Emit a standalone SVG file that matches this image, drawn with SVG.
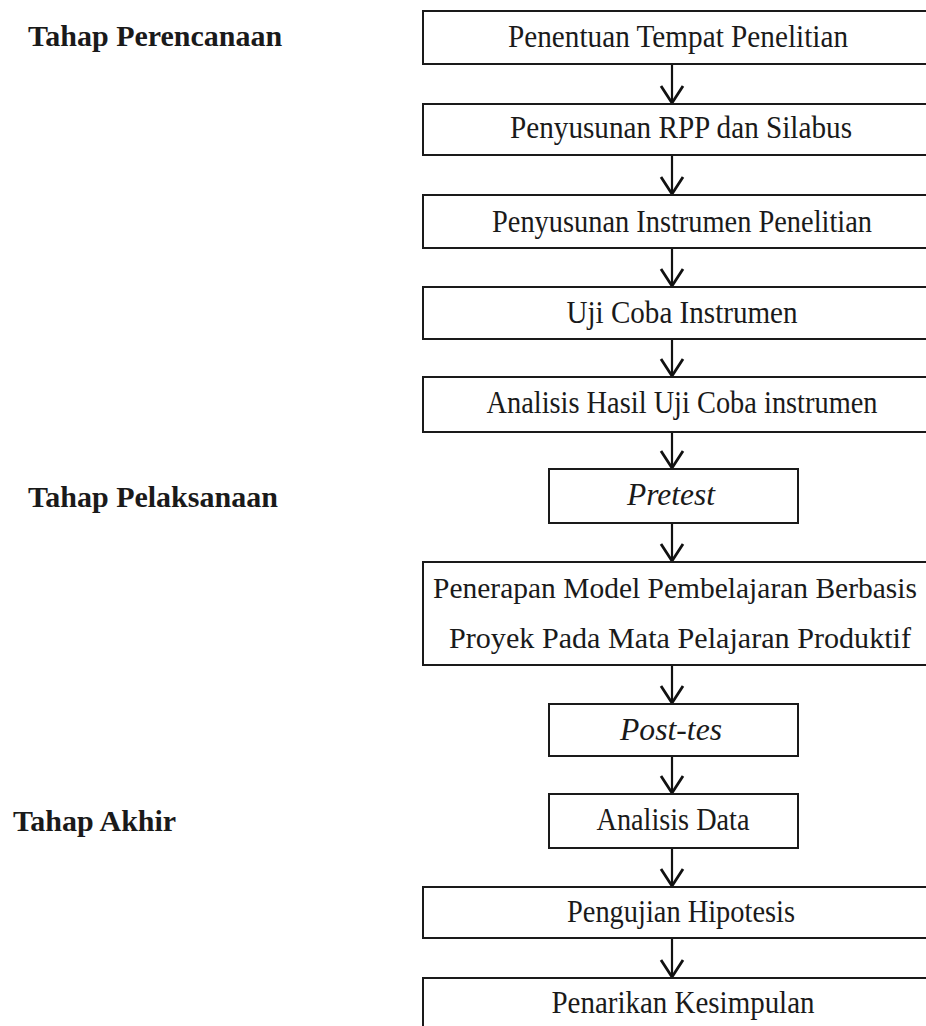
<svg xmlns="http://www.w3.org/2000/svg" width="926" height="1026" viewBox="0 0 926 1026">
<style>
.box{fill:#fff;stroke:#1a1a1a;stroke-width:2}
.t{font-family:"Liberation Serif","Times New Roman",serif;font-size:32px;fill:#1a1a1a;text-anchor:middle}
.s{font-size:29px}
.i{font-style:italic}
.lbl{font-family:"Liberation Serif","Times New Roman",serif;font-size:30px;font-weight:bold;fill:#1a1a1a}
.c{stroke:#111;stroke-width:2.2;fill:none}
</style>
<defs>
<marker id="ah" markerUnits="userSpaceOnUse" markerWidth="40" markerHeight="40" refX="0" refY="0" orient="auto" overflow="visible">
<path d="M-17,-11 L0,0 L-17,11" fill="none" stroke="#111" stroke-width="2.8" stroke-linejoin="miter"/>
</marker>
</defs>
<rect width="926" height="1026" fill="#fff"/>
<g id="labels">
<text class="lbl" x="28" y="46">Tahap Perencanaan</text>
<text class="lbl" x="28" y="507">Tahap Pelaksanaan</text>
<text class="lbl" x="13" y="831">Tahap Akhir</text>
</g>
<g id="connectors">
<line class="c" x1="672" y1="64" x2="672" y2="103" marker-end="url(#ah)"/>
<line class="c" x1="672" y1="155" x2="672" y2="194" marker-end="url(#ah)"/>
<line class="c" x1="672" y1="248" x2="672" y2="286" marker-end="url(#ah)"/>
<line class="c" x1="672" y1="339" x2="672" y2="376" marker-end="url(#ah)"/>
<line class="c" x1="672" y1="432" x2="672" y2="468" marker-end="url(#ah)"/>
<line class="c" x1="672" y1="523" x2="672" y2="561" marker-end="url(#ah)"/>
<line class="c" x1="672" y1="665" x2="672" y2="703" marker-end="url(#ah)"/>
<line class="c" x1="672" y1="756" x2="672" y2="793" marker-end="url(#ah)"/>
<line class="c" x1="672" y1="848" x2="672" y2="886" marker-end="url(#ah)"/>
<line class="c" x1="672" y1="938" x2="672" y2="977" marker-end="url(#ah)"/>
</g>
<g id="n1"><rect class="box" x="423" y="11" width="516" height="53"/><text class="t" x="678" y="47" textLength="340" lengthAdjust="spacingAndGlyphs">Penentuan Tempat Penelitian</text></g>
<g id="n2"><rect class="box" x="423" y="104" width="516" height="51"/><text class="t" x="681" y="138" textLength="342" lengthAdjust="spacingAndGlyphs">Penyusunan RPP dan Silabus</text></g>
<g id="n3"><rect class="box" x="423" y="195" width="516" height="53"/><text class="t" x="682" y="232" textLength="380" lengthAdjust="spacingAndGlyphs">Penyusunan Instrumen Penelitian</text></g>
<g id="n4"><rect class="box" x="423" y="287" width="516" height="52"/><text class="t" x="682" y="323" textLength="231" lengthAdjust="spacingAndGlyphs">Uji Coba Instrumen</text></g>
<g id="n5"><rect class="box" x="423" y="377" width="516" height="55"/><text class="t" x="682" y="413" textLength="391" lengthAdjust="spacingAndGlyphs">Analisis Hasil Uji Coba instrumen</text></g>
<g id="n6"><rect class="box" x="549" y="469" width="249" height="54"/><text class="t i" x="671" y="505" textLength="88" lengthAdjust="spacingAndGlyphs">Pretest</text></g>
<g id="n7"><rect class="box" x="423" y="562" width="516" height="103"/><text class="t s" x="675" y="598" textLength="484" lengthAdjust="spacingAndGlyphs">Penerapan Model Pembelajaran Berbasis</text><text class="t s" x="680" y="648" textLength="462" lengthAdjust="spacingAndGlyphs">Proyek Pada Mata Pelajaran  Produktif</text></g>
<g id="n8"><rect class="box" x="549" y="704" width="249" height="52"/><text class="t i" x="671" y="740" textLength="102" lengthAdjust="spacingAndGlyphs">Post-tes</text></g>
<g id="n9"><rect class="box" x="549" y="794" width="249" height="54"/><text class="t" x="673" y="830" textLength="153" lengthAdjust="spacingAndGlyphs">Analisis Data</text></g>
<g id="n10"><rect class="box" x="423" y="887" width="516" height="51"/><text class="t" x="681" y="922" textLength="228" lengthAdjust="spacingAndGlyphs">Pengujian Hipotesis</text></g>
<g id="n11"><rect class="box" x="423" y="978" width="516" height="70"/><text class="t" x="683" y="1013" textLength="263" lengthAdjust="spacingAndGlyphs">Penarikan Kesimpulan</text></g>
</svg>
